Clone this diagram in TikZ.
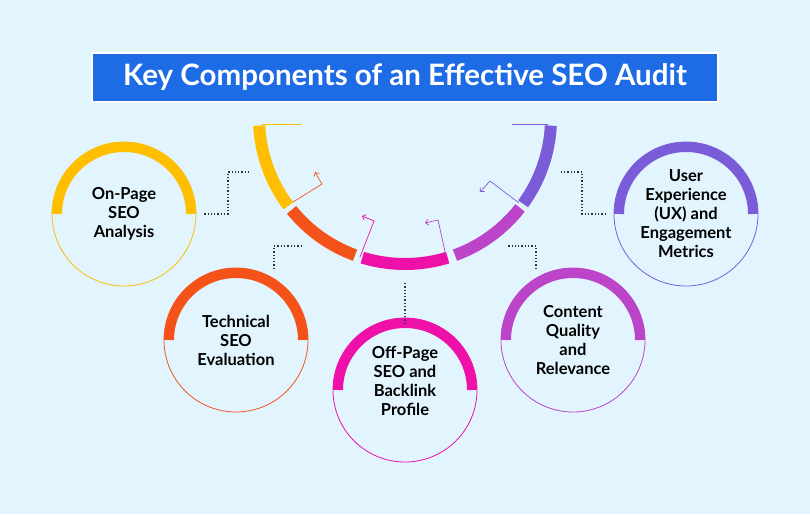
\documentclass[tikz,border=0pt]{standalone}
\usepackage{fontspec}
\setmainfont{Lato}
\usetikzlibrary{arrows.meta}
\definecolor{bgblue}{HTML}{E2F5FE}
\definecolor{titleblue}{HTML}{1E6BE6}
\definecolor{cyellow}{HTML}{FFBE00}
\definecolor{corange}{HTML}{F5521A}
\definecolor{cmagenta}{HTML}{EE10A8}
\definecolor{cpurple}{HTML}{BC44C8}
\definecolor{cviolet}{HTML}{7B5CD8}
\tikzset{
	band/.style={line width=12pt},
	ring/.style={line width=0.8pt},
	halfband/.style={line width=10pt},
	linkline/.style={dotted, line width=1.3pt, black!80},
	gapline/.style={line width=0.7pt, -{Straight Barb[length=3pt]}},
	topictext/.style={font=\bfseries\fontsize{16.5}{19}\selectfont, align=center, text=black}
}
\begin{document}
\begin{tikzpicture}[x=1pt, y=-1pt]
	\fill[bgblue] (0,0) rectangle (810,514);
	\useasboundingbox (0,0) rectangle (810,514);

	% title
	\node[fill=titleblue, draw=white, line width=2pt, minimum width=626pt, minimum height=49pt,
		text=white, font=\bfseries\fontsize{29.5}{32}\selectfont] (title) at (405,77) {Key Components of an Effective SEO Audit};

	% central arc
	\coordinate (hub) at (405,118);
	\draw[band, cyellow] ([shift={(177:146)}]hub) arc (177:143:146);
	\draw[band, corange] ([shift={(141:146)}]hub) arc (141:110:146);
	\draw[band, cmagenta] ([shift={(107:146)}]hub) arc (107:73:146);
	\draw[band, cpurple] ([shift={(70:146)}]hub) arc (70:38:146);
	\draw[band, cviolet] ([shift={(36:146)}]hub) arc (36:3:146);
	\draw[cyellow, line width=0.7pt] (262,124) -- (301,124);
	\draw[cviolet, line width=0.7pt] (512,124) -- (548,124);

	% arrows in the gaps
	\draw[gapline, corange] (293,202) -- (322,184) -- (315,172);
	\draw[gapline, cmagenta] (360,257) -- (374,221) -- (362,216);
	\draw[gapline, cpurple] (446,256) -- (438,220) -- (425,223);
	\draw[gapline, cviolet] (519,203) -- (490,181) -- (480,192);

	% topic circles
	\foreach \name/\pos/\col in {onpage/{(124,214)}/cyellow, tech/{(236,340)}/corange,
		offpage/{(405,390)}/cmagenta, content/{(573,340)}/cpurple, ux/{(686,214)}/cviolet}{
		\node[circle, minimum size=144pt, inner sep=0pt] (\name) at \pos {};
		\draw[ring, \col] (\name) circle (72);
		\draw[halfband, \col] ([xshift=-67pt]\name.center) arc (180:360:67);
	}
	\node[topictext] at (onpage) {On-Page\\SEO\\Analysis};
	\node[topictext] at (tech) {Technical\\SEO\\Evaluation};
	\node[topictext] at ([yshift=9pt]offpage) {Off-Page\\SEO and\\Backlink\\Profile};
	\node[topictext] at (content) {Content\\Quality\\and\\Relevance};
	\node[topictext] at (ux) {User\\Experience\\(UX) and\\Engagement\\Metrics};

	% dotted links
	\coordinate (l1) at (251,172);
	\coordinate (l2) at (303,246);
	\coordinate (l3) at (405,281);
	\coordinate (l4) at (507,246);
	\coordinate (l5) at (559,172);
	\coordinate (t2) at (274,269);
	\coordinate (t4) at (536,269);
	\draw[linkline] ([xshift=8pt]onpage.east) -| (228,185) |- (l1);
	\draw[linkline] (t2) |- (l2);
	\draw[linkline] ([yshift=-6pt]offpage.north) -- (l3);
	\draw[linkline] (t4) |- (l4);
	\draw[linkline] ([xshift=-8pt]ux.west) -| (582,185) |- (l5);
\end{tikzpicture}
\end{document}
